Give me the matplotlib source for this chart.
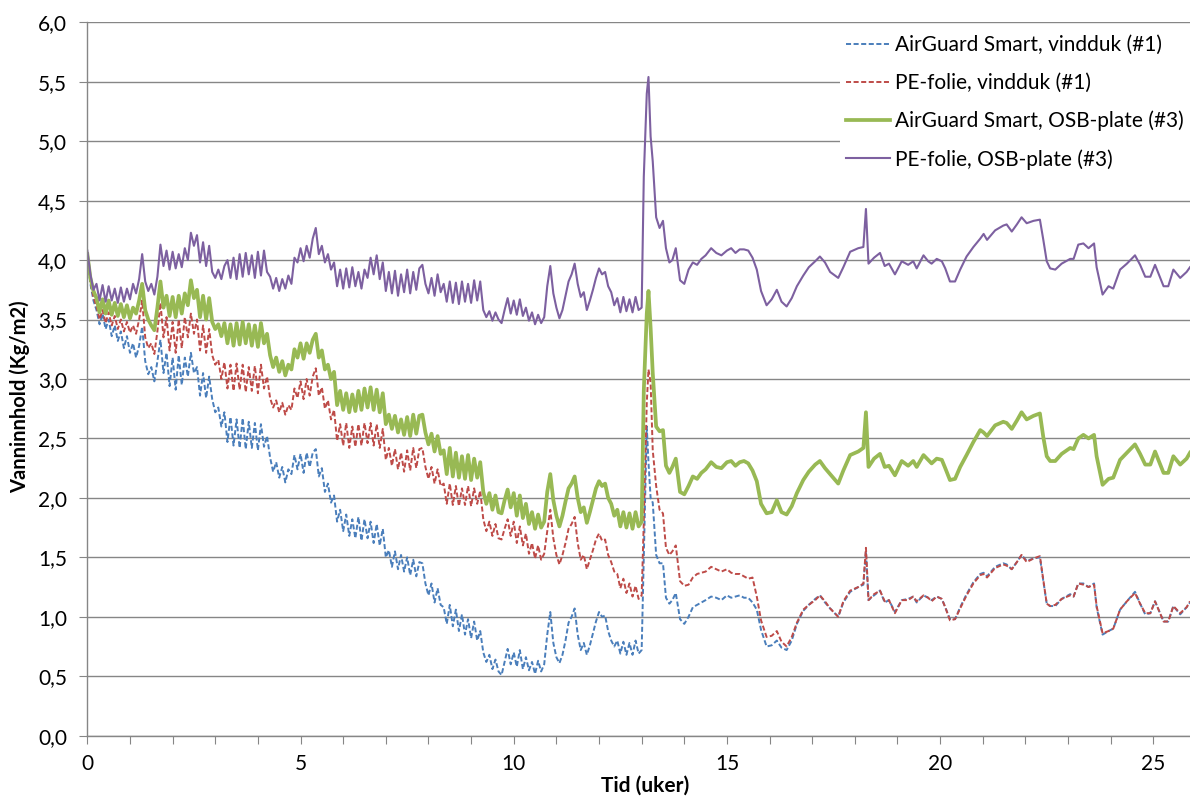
import numpy as np
import matplotlib.pyplot as plt
from matplotlib.ticker import MultipleLocator

plt.rcParams['font.family'] = ['Lato', 'DejaVu Sans']

# weeks 0-13, read at half-day steps (daily swings)
blue_early = [4.05, 3.80, 3.66,
              3.58, 3.46, 3.55, 3.42, 3.50, 3.36, 3.45, 3.32, 3.40, 3.26, 3.36, 3.22,
              3.30, 3.18, 3.28,
              3.44, 3.15, 3.04, 3.10, 2.98, 3.15,
              3.33, 3.05, 3.22, 2.94, 3.18, 2.91, 3.20, 2.95, 3.18,
              3.02, 3.22, 3.05, 3.10, 2.86, 3.05, 2.84, 3.02, 2.83,
              2.72, 2.76, 2.60, 2.72,
              2.47, 2.68, 2.44, 2.66, 2.42, 2.67, 2.41, 2.64, 2.42, 2.63, 2.40, 2.62, 2.43, 2.52,
              2.34, 2.22, 2.30, 2.17, 2.26, 2.13, 2.24, 2.20,
              2.36, 2.24, 2.37, 2.21, 2.38, 2.26, 2.38, 2.41, 2.18, 2.25,
              2.05, 2.12, 1.96, 2.02,
              1.80, 1.90, 1.72, 1.86, 1.68, 1.82, 1.66, 1.84, 1.64, 1.82,
              1.66, 1.80, 1.62, 1.78, 1.60, 1.74,
              1.50, 1.56, 1.42, 1.55, 1.40, 1.52, 1.38, 1.50, 1.35, 1.48, 1.34, 1.46,
              1.45, 1.28,
              1.18, 1.28, 1.12, 1.24, 1.10,
              1.08, 0.94, 1.10, 0.92, 1.06, 0.88, 1.02, 0.85, 0.98, 0.82, 0.96, 0.80, 0.88,
              0.70, 0.62, 0.68, 0.56, 0.64, 0.54, 0.51,
              0.62, 0.73, 0.60, 0.70,
              0.58, 0.72, 0.56, 0.66, 0.55, 0.62, 0.52, 0.63, 0.54, 0.60,
              0.85, 1.04, 0.78, 0.66, 0.61, 0.68, 0.80, 0.95, 1.00, 1.07, 0.85, 0.72,
              0.78, 0.68, 0.76, 0.86, 0.96, 1.04, 1.00, 1.01, 0.88, 0.80, 0.75,
              0.80, 0.69, 0.79, 0.68, 0.78, 0.68, 0.80, 0.69, 0.72]

red_early = [4.05, 3.82, 3.69,
             3.61, 3.50, 3.58, 3.47, 3.56, 3.45, 3.53, 3.42, 3.50, 3.40, 3.48, 3.39,
             3.45, 3.38, 3.50,
             3.66, 3.35, 3.26, 3.30, 3.21, 3.40,
             3.64, 3.35, 3.52, 3.24, 3.48, 3.22, 3.50, 3.26, 3.52,
             3.35, 3.55, 3.38, 3.50, 3.24, 3.45, 3.22, 3.42, 3.20,
             3.12, 3.16, 3.00, 3.14,
             2.92, 3.12, 2.90, 3.13, 2.91, 3.12, 2.89, 3.10, 2.90, 3.11, 2.88, 3.12, 2.92, 3.02,
             2.84, 2.76, 2.82, 2.72, 2.80, 2.70, 2.78, 2.74,
             2.92, 2.84, 2.98, 2.83, 3.00, 2.86, 3.02, 3.09, 2.86, 2.93,
             2.75, 2.82, 2.66, 2.74,
             2.48, 2.62, 2.44, 2.63, 2.42, 2.60, 2.43, 2.62, 2.44, 2.63,
             2.46, 2.63, 2.44, 2.62, 2.42, 2.58,
             2.32, 2.42, 2.27, 2.41, 2.24, 2.38, 2.22, 2.40, 2.23, 2.42, 2.25, 2.41,
             2.42, 2.26,
             2.16, 2.26, 2.12, 2.24, 2.10,
             2.12, 1.95, 2.12, 1.94, 2.10, 1.93, 2.08, 1.94, 2.10, 1.93, 2.08, 1.95, 2.06,
             1.82, 1.72, 1.80, 1.68, 1.78, 1.66, 1.65,
             1.74, 1.82, 1.68, 1.80,
             1.62, 1.76, 1.60, 1.70, 1.53, 1.62, 1.49, 1.60, 1.48, 1.53,
             1.72, 1.90, 1.66, 1.52, 1.44, 1.52, 1.62, 1.74, 1.78, 1.84, 1.62, 1.48,
             1.52, 1.40, 1.48, 1.56, 1.65, 1.70, 1.64, 1.65, 1.52, 1.46, 1.38,
             1.36, 1.24, 1.32, 1.20, 1.28, 1.17, 1.26, 1.15, 1.18]

green_early = [4.05, 3.85, 3.74,
               3.68, 3.56, 3.67, 3.55, 3.66, 3.54, 3.64, 3.53, 3.63, 3.52, 3.62, 3.51,
               3.60, 3.55, 3.66,
               3.80, 3.58, 3.50, 3.45, 3.41, 3.60,
               3.82, 3.60, 3.70, 3.53, 3.69, 3.52, 3.70, 3.55, 3.72,
               3.62, 3.83, 3.68, 3.75, 3.52, 3.70, 3.50, 3.68, 3.48,
               3.42, 3.46, 3.36, 3.47,
               3.30, 3.46, 3.28, 3.47, 3.29, 3.48, 3.30, 3.46, 3.28, 3.45, 3.27, 3.47, 3.30, 3.38,
               3.20, 3.10, 3.18, 3.06, 3.15, 3.03, 3.12, 3.08,
               3.25, 3.18, 3.30, 3.17, 3.30, 3.22, 3.33, 3.38, 3.18, 3.24,
               3.08, 3.12, 3.00, 3.06,
               2.78, 2.90, 2.74, 2.88, 2.72, 2.87, 2.73, 2.90, 2.74, 2.92,
               2.76, 2.93, 2.74, 2.91, 2.72, 2.88,
               2.62, 2.70, 2.58, 2.69, 2.55, 2.66, 2.53, 2.68, 2.52, 2.70, 2.54, 2.69,
               2.70, 2.55,
               2.45, 2.54, 2.39, 2.52, 2.37,
               2.40, 2.20, 2.42, 2.18, 2.38, 2.17, 2.35, 2.16, 2.36, 2.15, 2.33, 2.17, 2.30,
               2.05, 1.95, 2.04, 1.90, 2.02, 1.88, 1.87,
               1.98, 2.07, 1.92, 2.04,
               1.85, 2.02, 1.83, 1.95, 1.78, 1.88, 1.74, 1.86, 1.75, 1.80,
               2.05, 2.20, 1.98, 1.85, 1.76, 1.85, 1.97, 2.08, 2.12, 2.18, 2.00, 1.88,
               1.92, 1.79, 1.88, 1.98, 2.08, 2.14, 2.10, 2.12, 2.00, 1.95, 1.85,
               1.90, 1.76, 1.88, 1.75, 1.87, 1.74, 1.88, 1.76, 1.80]

purple_early = [4.08, 3.88, 3.75, 3.80, 3.66, 3.79, 3.65, 3.78, 3.66, 3.76, 3.64, 3.77, 3.65, 3.76,
                3.67, 3.80, 3.72, 3.84, 4.05, 3.82, 3.74, 3.80, 3.71, 3.86, 4.13, 3.95, 4.08, 3.92,
                4.07, 3.93, 4.05, 3.94, 4.10, 4.00, 4.23, 4.12, 4.21, 3.98, 4.15, 3.95, 4.12, 3.90,
                3.85, 3.92, 3.84, 3.95, 4.00, 3.85, 4.02, 3.84, 4.05, 3.86, 4.06, 3.88, 4.04, 3.85,
                4.07, 3.87, 4.08, 3.90, 3.86, 3.76, 3.85, 3.74, 3.84, 3.76, 3.87, 3.80, 4.02, 3.98,
                4.10, 3.99, 4.12, 4.02, 4.18, 4.27, 4.05, 4.12, 3.98, 4.05, 3.92, 3.98, 3.78, 3.92,
                3.76, 3.93, 3.77, 3.94, 3.78, 3.90, 3.76, 3.92, 3.85, 4.02, 3.88, 4.04, 3.84, 3.98,
                3.74, 3.90, 3.72, 3.91, 3.70, 3.88, 3.73, 3.92, 3.72, 3.90, 3.75, 3.93, 3.96, 3.80,
                3.72, 3.85, 3.70, 3.88, 3.73, 3.80, 3.65, 3.82, 3.64, 3.81, 3.63, 3.82, 3.65, 3.80,
                3.64, 3.83, 3.66, 3.82, 3.58, 3.52, 3.57, 3.49, 3.56, 3.50, 3.47, 3.58, 3.68, 3.55,
                3.66, 3.54, 3.67, 3.53, 3.60, 3.49, 3.56, 3.46, 3.54, 3.47, 3.52, 3.78, 3.95, 3.72,
                3.60, 3.51, 3.58, 3.70, 3.82, 3.88, 3.97, 3.80, 3.69, 3.73, 3.58, 3.66, 3.75, 3.85,
                3.93, 3.88, 3.90, 3.78, 3.73, 3.62, 3.68, 3.56, 3.69, 3.57, 3.67, 3.56, 3.69, 3.58,
                3.60]

# week 13 onwards, read at uneven times (weeks)
t_late = [13.05, 13.12, 13.16, 13.21, 13.26, 13.34, 13.42, 13.5, 13.57, 13.65,
          13.72, 13.8, 13.9, 14.0, 14.1, 14.2, 14.3, 14.4, 14.5, 14.63,
          14.75, 14.87, 15.0, 15.1, 15.2, 15.3, 15.4, 15.5, 15.6, 15.7,
          15.8, 15.93, 16.05, 16.17, 16.28, 16.4, 16.52, 16.64, 16.79, 16.92,
          17.07, 17.18, 17.3, 17.42, 17.61, 17.73, 17.89, 18.08, 18.2, 18.26,
          18.32, 18.45, 18.59, 18.7, 18.8, 18.94, 19.1, 19.25, 19.37, 19.45,
          19.61, 19.72, 19.8, 19.92, 20.04, 20.12, 20.23, 20.35, 20.47, 20.62,
          20.78, 20.94, 21.02, 21.1, 21.29, 21.48, 21.56, 21.68, 21.8, 21.91,
          22.03, 22.19, 22.34, 22.42, 22.5, 22.58, 22.7, 22.85, 23.05, 23.13,
          23.24, 23.36, 23.48, 23.61, 23.67, 23.81, 23.95, 24.06, 24.22, 24.38,
          24.57, 24.69, 24.81, 24.93, 25.04, 25.24, 25.35, 25.47, 25.63, 25.78, 25.86]

blue_late = [1.50, 2.60, 2.30, 2.00, 1.96, 1.52, 1.45, 1.45, 1.16, 1.11,
             1.14, 1.20, 0.98, 0.94, 1.00, 1.08, 1.10, 1.12, 1.14, 1.17,
             1.16, 1.14, 1.18, 1.16, 1.17, 1.18, 1.16, 1.16, 1.12, 1.06,
             0.89, 0.75, 0.76, 0.80, 0.74, 0.72, 0.80, 0.94, 1.05, 1.10,
             1.15, 1.18, 1.12, 1.07, 1.00, 1.12, 1.21, 1.25, 1.27, 1.55,
             1.14, 1.18, 1.22, 1.12, 1.14, 1.04, 1.14, 1.15, 1.17, 1.12,
             1.18, 1.16, 1.14, 1.17, 1.15, 1.08, 0.98, 0.98, 1.08, 1.19,
             1.29, 1.36, 1.37, 1.34, 1.42, 1.45, 1.44, 1.40, 1.46, 1.52,
             1.47, 1.49, 1.50, 1.30, 1.11, 1.09, 1.09, 1.15, 1.19, 1.17,
             1.28, 1.28, 1.25, 1.28, 1.08, 0.85, 0.88, 0.90, 1.06, 1.13,
             1.21, 1.11, 1.02, 1.03, 1.13, 0.96, 0.96, 1.09, 1.02, 1.08, 1.12]

red_late = [1.80, 2.80, 3.08, 2.97, 2.40, 2.10, 1.90, 1.87, 1.58, 1.52,
            1.55, 1.60, 1.30, 1.26, 1.27, 1.33, 1.36, 1.37, 1.38, 1.42,
            1.40, 1.38, 1.40, 1.37, 1.36, 1.36, 1.34, 1.32, 1.33, 1.17,
            0.97, 0.83, 0.84, 0.88, 0.79, 0.75, 0.83, 0.95, 1.06, 1.10,
            1.14, 1.18, 1.13, 1.07, 1.00, 1.13, 1.22, 1.25, 1.28, 1.58,
            1.14, 1.19, 1.22, 1.13, 1.14, 1.03, 1.14, 1.14, 1.17, 1.13,
            1.18, 1.16, 1.13, 1.17, 1.15, 1.08, 0.97, 0.98, 1.07, 1.18,
            1.28, 1.35, 1.36, 1.33, 1.41, 1.44, 1.43, 1.40, 1.46, 1.52,
            1.46, 1.49, 1.51, 1.31, 1.11, 1.09, 1.10, 1.15, 1.18, 1.17,
            1.28, 1.27, 1.25, 1.27, 1.09, 0.86, 0.88, 0.90, 1.06, 1.13,
            1.20, 1.11, 1.03, 1.03, 1.13, 0.96, 0.96, 1.09, 1.03, 1.08, 1.13]

green_late = [2.90, 3.55, 3.74, 3.43, 3.05, 2.60, 2.56, 2.57, 2.27, 2.21,
              2.26, 2.33, 2.05, 2.03, 2.10, 2.18, 2.16, 2.21, 2.24, 2.30,
              2.26, 2.25, 2.30, 2.31, 2.27, 2.30, 2.31, 2.29, 2.23, 2.14,
              1.95, 1.87, 1.88, 1.98, 1.88, 1.86, 1.93, 2.04, 2.15, 2.22,
              2.28, 2.31, 2.25, 2.20, 2.12, 2.23, 2.36, 2.39, 2.42, 2.72,
              2.26, 2.33, 2.37, 2.26, 2.27, 2.19, 2.31, 2.27, 2.31, 2.26,
              2.36, 2.32, 2.29, 2.33, 2.32, 2.25, 2.15, 2.16, 2.26, 2.36,
              2.47, 2.57, 2.55, 2.52, 2.61, 2.64, 2.63, 2.58, 2.65, 2.72,
              2.66, 2.69, 2.71, 2.51, 2.35, 2.31, 2.31, 2.37, 2.42, 2.41,
              2.50, 2.53, 2.50, 2.53, 2.35, 2.11, 2.16, 2.17, 2.32, 2.38,
              2.45, 2.37, 2.28, 2.28, 2.39, 2.21, 2.21, 2.35, 2.28, 2.33, 2.38]

purple_late = [4.70, 5.40, 5.54, 5.04, 4.83, 4.36, 4.27, 4.33, 4.10, 3.98,
               4.00, 4.10, 3.83, 3.80, 3.92, 3.98, 3.96, 4.01, 4.04, 4.10,
               4.06, 4.04, 4.08, 4.10, 4.06, 4.09, 4.09, 4.08, 4.02, 3.92,
               3.74, 3.62, 3.67, 3.75, 3.65, 3.61, 3.68, 3.78, 3.87, 3.94,
               3.99, 4.03, 3.98, 3.90, 3.85, 3.94, 4.07, 4.10, 4.11, 4.43,
               3.97, 4.02, 4.06, 3.95, 3.97, 3.88, 3.99, 3.96, 3.99, 3.93,
               4.04, 3.99, 3.97, 4.01, 3.99, 3.93, 3.82, 3.82, 3.92, 4.03,
               4.11, 4.18, 4.22, 4.17, 4.25, 4.29, 4.30, 4.24, 4.30, 4.36,
               4.31, 4.33, 4.34, 4.17, 3.99, 3.93, 3.92, 3.97, 4.01, 4.01,
               4.13, 4.14, 4.10, 4.14, 3.94, 3.71, 3.78, 3.76, 3.92, 3.97,
               4.04, 3.96, 3.86, 3.86, 3.96, 3.78, 3.78, 3.92, 3.85, 3.90, 3.94]

series_names = ['AirGuard Smart, vindduk (#1)', 'PE-folie, vindduk (#1)',
                'AirGuard Smart, OSB-plate (#3)', 'PE-folie, OSB-plate (#3)']
ytick_vals = [0, 0.5, 1, 1.5, 2, 2.5, 3, 3.5, 4, 4.5, 5, 5.5, 6]
ytick_labels = ['0,0', '0,5', '1,0', '1,5', '2,0', '2,5', '3,0',
                '3,5', '4,0', '4,5', '5,0', '5,5', '6,0']
xtick_vals = [0, 5, 10, 15, 20, 25]


def weeks(early):
    return np.concatenate([np.arange(len(early)) / 14, t_late])


grey = '#868686'
fig = plt.figure(figsize=(11.9, 7.96), dpi=100)
ax = fig.add_axes([0.0734, 0.0758, 0.9266, 0.8962])

ax.plot(weeks(blue_early), blue_early + blue_late, color='#4a7ebb', lw=1.4,
        dashes=(2.6, 1.3), label=series_names[0])
ax.plot(weeks(red_early), red_early + red_late, color='#be4b48', lw=1.4,
        dashes=(2.6, 1.3), label=series_names[1])
ax.plot(weeks(green_early), green_early + green_late, color='#98b954', lw=2.7,
        label=series_names[2])
ax.plot(weeks(purple_early), purple_early + purple_late, color='#7d60a0', lw=1.5,
        label=series_names[3])

ax.set_xlim(0, 25.86)
ax.set_ylim(0, 6)
ax.set_yticks(ytick_vals)
ax.set_yticklabels(ytick_labels)
ax.set_xticks(xtick_vals)
ax.xaxis.set_minor_locator(MultipleLocator(1))
ax.tick_params(axis='both', which='both', direction='out', length=5.5,
               color=grey, labelsize=15, width=0.8)
ax.tick_params(axis='y', pad=9)
ax.tick_params(axis='x', pad=7.5)
ax.grid(axis='y', color=grey, lw=1.0)
ax.set_axisbelow(True)
for s in ['top', 'right']:
    ax.spines[s].set_visible(False)
for s in ['left', 'bottom']:
    ax.spines[s].set_color(grey)
    ax.spines[s].set_linewidth(1.0)

ax.set_xlabel('Tid (uker)', fontsize=15, fontweight='bold')
ax.set_ylabel('Vanninnhold (Kg/m2)', fontsize=14.5, fontweight='bold')
ax.xaxis.set_label_coords(0.506, -0.056)
ax.yaxis.set_label_coords(-0.052, 0.475)

leg = ax.legend(loc='upper left', bbox_to_anchor=(840 / 1190, 1 - 29 / 796),
                bbox_transform=fig.transFigure, fontsize=15, frameon=True,
                facecolor='white', edgecolor='none', framealpha=1, fancybox=False,
                borderpad=0.3, borderaxespad=0, labelspacing=0.85,
                handlelength=2.1, handletextpad=0.25)

fig.savefig('out.png', dpi=100)
